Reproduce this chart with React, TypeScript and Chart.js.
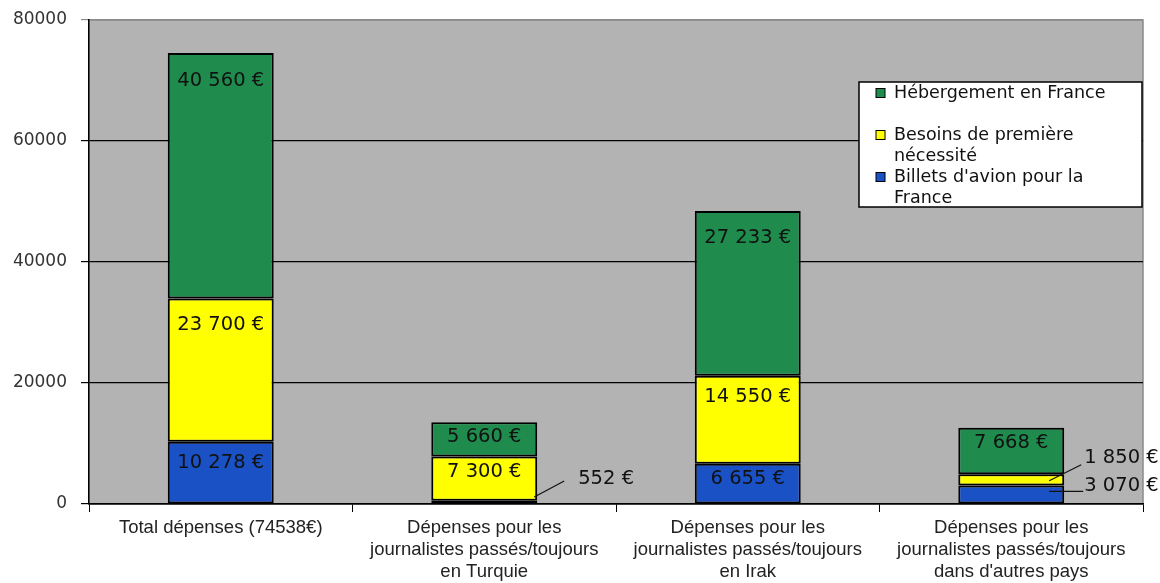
import React, { useEffect, useRef } from "react";
import { Chart, registerables } from "chart.js";

Chart.register(...registerables);

const categories: string[][] = [
  ["Total dépenses (74538€)"],
  ["Dépenses pour les", "journalistes passés/toujours", "en Turquie"],
  ["Dépenses pour les", "journalistes passés/toujours", "en Irak"],
  ["Dépenses pour les", "journalistes passés/toujours", "dans d'autres pays"],
];
const billets = [10278, 552, 6655, 3070];
const besoins = [23700, 7300, 14550, 1850];
const hebergement = [40560, 5660, 27233, 7668];
const yTicks = [0, 20000, 40000, 60000, 80000];
const legendLines: Record<string, string[]> = {
  "Hébergement en France": ["Hébergement en France"],
  "Besoins de première nécessité": ["Besoins de première", "nécessité"],
  "Billets d'avion pour la France": ["Billets d'avion pour la", "France"],
};

const GREEN = "#1f8c4e";
const YELLOW = "#ffff00";
const BLUE = "#1a52c6";
const FONT = "'DejaVu Sans', Verdana, sans-serif";
const CAT_FONT = "'Liberation Sans', Arial, sans-serif";

const fmt = (v: number) =>
  String(v).replace(/\B(?=(\d{3})+(?!\d))/g, " ") + " €";

// callouts for tiny segments: geometry relative to bar right edge / segment middle
const callouts = [
  { ds: 0, i: 1, x1: -3, y1: -5, x2: 27, y2: -21, tx: 41, ty: -23 },
  { ds: 1, i: 3, x1: -15, y1: 1, x2: 17, y2: -15, tx: 20, ty: -22 },
  { ds: 0, i: 3, x1: -15, y1: -3, x2: 19, y2: -3, tx: 20, ty: -8 },
];

const labelPlugin = {
  id: "segLabels",
  afterDatasetsDraw(chart: any) {
    const ctx = chart.ctx;
    ctx.save();
    ctx.font = `19.5px ${FONT}`;
    ctx.fillStyle = "#111";
    chart.data.datasets.forEach((ds: any, di: number) => {
      const meta = chart.getDatasetMeta(di);
      meta.data.forEach((bar: any, i: number) => {
        const v = ds.data[i];
        const top = bar.y;
        const base = bar.base;
        const h = base - top;
        const right = bar.x + bar.width / 2;
        const co = callouts.find((c) => c.ds === di && c.i === i);
        if (co) {
          const mid = (top + base) / 2;
          ctx.strokeStyle = "#111";
          ctx.lineWidth = 1.2;
          ctx.beginPath();
          ctx.moveTo(right + co.x1, mid + co.y1);
          ctx.lineTo(right + co.x2, mid + co.y2);
          ctx.stroke();
          ctx.textAlign = "left";
          ctx.textBaseline = "middle";
          ctx.fillText(fmt(v), right + co.tx, mid + co.ty);
          return;
        }
        const off =
          h >= 200 ? 28 : h >= 140 ? 27 : h >= 60 ? 21 : Math.min(h / 2, 15);
        ctx.textAlign = "center";
        ctx.textBaseline = "middle";
        ctx.fillText(fmt(v), bar.x, top + off);
      });
    });
    ctx.restore();
  },
};

const legendPlugin = {
  id: "boxLegend",
  afterDraw(chart: any) {
    const ctx = chart.ctx;
    const ca = chart.chartArea;
    const x0 = ca.right - 284;
    const y0 = ca.top + 62;
    const w = 283;
    const hgt = 125;
    ctx.save();
    ctx.fillStyle = "#ffffff";
    ctx.fillRect(x0, y0, w, hgt);
    ctx.strokeStyle = "#000";
    ctx.lineWidth = 1.5;
    ctx.strokeRect(x0, y0, w, hgt);
    ctx.font = `17.5px ${FONT}`;
    ctx.textAlign = "left";
    ctx.textBaseline = "middle";
    const items = [...chart.data.datasets].reverse();
    items.forEach((ds: any, k: number) => {
      const cy = y0 + 11 + k * 42;
      ctx.fillStyle = ds.backgroundColor;
      ctx.fillRect(x0 + 17, cy - 4.5, 9, 9);
      ctx.strokeStyle = "#000";
      ctx.lineWidth = 1;
      ctx.strokeRect(x0 + 17, cy - 4.5, 9, 9);
      ctx.fillStyle = "#111";
      const lines = legendLines[ds.label] || [ds.label];
      lines.forEach((ln: string, j: number) => {
        ctx.fillText(ln, x0 + 35, cy + j * 21);
      });
    });
    ctx.restore();
  },
};

const bgPlugin = {
  id: "plotBg",
  beforeDraw(chart: any) {
    const ctx = chart.ctx;
    const ca = chart.chartArea;
    ctx.save();
    ctx.fillStyle = "#ffffff";
    ctx.fillRect(0, 0, chart.width, chart.height);
    ctx.fillStyle = "#b3b3b3";
    ctx.fillRect(ca.left, ca.top, ca.right - ca.left, ca.bottom - ca.top);
    ctx.strokeStyle = "#8a8a8a";
    ctx.lineWidth = 1.5;
    ctx.strokeRect(ca.left, ca.top, ca.right - ca.left, ca.bottom - ca.top);
    ctx.restore();
  },
};

export default function App() {
  const ref = useRef<HTMLCanvasElement | null>(null);
  useEffect(() => {
    document.body.style.margin = "0";
    if (!ref.current) return;
    const mk = (label: string, data: number[], color: string) => ({
      label,
      data,
      backgroundColor: color,
      borderColor: "#000",
      borderWidth: 2,
      borderSkipped: false,
      categoryPercentage: 1,
      barPercentage: 0.402,
    });
    const chart = new Chart(ref.current, {
      type: "bar",
      data: {
        labels: categories,
        datasets: [
          mk("Billets d'avion pour la France", billets, BLUE),
          mk("Besoins de première nécessité", besoins, YELLOW),
          mk("Hébergement en France", hebergement, GREEN),
        ],
      },
      options: {
        responsive: false,
        animation: false,
        layout: { padding: { top: 0, right: 17, left: 0, bottom: 0 } },
        plugins: { legend: { display: false }, tooltip: { enabled: false } },
        scales: {
          x: {
            stacked: true,
            offset: true,
            grid: {
              offset: true,
              drawOnChartArea: false,
              color: "#000",
              tickLength: 8,
            },
            border: { color: "#000", width: 1.5 },
            ticks: {
              color: "#222",
              font: { family: CAT_FONT, size: 18.5, lineHeight: 1.19 },
              maxRotation: 0,
              autoSkip: false,
              padding: 5,
            },
            afterFit(s: any) {
              s.height = 79;
            },
          },
          y: {
            stacked: true,
            min: 0,
            max: 80000,
            afterBuildTicks(s: any) {
              s.ticks = yTicks.map((v) => ({ value: v }));
            },
            grid: {
              color: (c: any) =>
                c.tick && c.tick.value === 80000 ? "#8a8a8a" : "#000",
              lineWidth: 1.2,
              tickLength: 8,
            },
            border: { color: "#000", width: 1.5 },
            ticks: {
              color: "#333",
              font: { family: FONT, size: 17 },
              padding: 14,
              callback: (v: any) => String(v),
            },
            afterFit(s: any) {
              s.width = 89;
              s.paddingTop = 20;
              s.paddingBottom = 0;
            },
          },
        },
      },
      plugins: [bgPlugin, labelPlugin, legendPlugin],
    });
    return () => chart.destroy();
  }, []);
  return (
    <div style={{ width: 1160, height: 583 }}>
      <canvas ref={ref} width={1160} height={583} />
    </div>
  );
}
